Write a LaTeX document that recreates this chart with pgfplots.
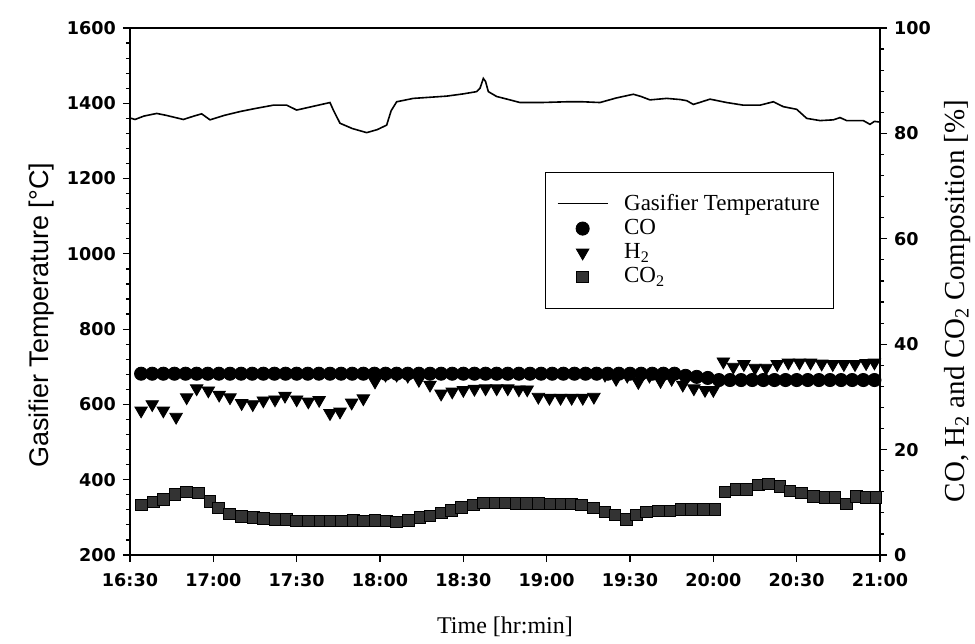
\documentclass[border=0pt]{standalone}
\usepackage{fontspec}
\setmainfont{Liberation Serif}
\newfontfamily\arialfont{Liberation Sans}
\newfontfamily\tickfont{DejaVu Sans}
\usepackage{pgfplots}
\pgfplotsset{compat=1.18}

\pgfplotsset{
  gasbase/.style={
    scale only axis, width=375pt, height=263.5pt,
    xmin=0, xmax=270,
    tick align=outside,
    major tick length=3.5pt, minor tick length=2pt,
    tick style={black, line width=0.6pt},
    axis line style={line width=0.7pt},
    /pgf/number format/assume math mode=true,
    /pgf/number format/1000 sep={},
    ticklabel style={font=\tickfont\bfseries\fontsize{8.8}{10.5}\selectfont},
  },
  legend image code/.code={
    \draw[mark repeat=2, mark phase=2, #1]
      plot coordinates {(0pt,0pt) (12.5pt,0pt) (25pt,0pt)};
  },
}

\begin{document}
\begin{tikzpicture}
\useasboundingbox (-65pt,-44pt) rectangle (422.5pt,277.5pt);

% left axis: gasifier temperature
\begin{axis}[gasbase, at={(0,0)}, anchor=south west,
  ymin=200, ymax=1600, ytick={200,400,...,1600}, minor y tick num=4,
  xtick={0,30,...,270},
  xticklabels={16:30,17:00,17:30,18:00,18:30,19:00,19:30,20:00,20:30,21:00},
  xticklabel style={yshift=-2pt},
  xtick pos=bottom, ytick pos=left,
  xlabel={Time [hr:min]},
  xlabel style={font=\fontsize{12}{14}\selectfont, at={(axis description cs:0.5,-0.137)}, anchor=center},
  ylabel={Gasifier Temperature [°C]},
  ylabel style={font=\arialfont\fontsize{13.5}{16}\selectfont, at={(axis description cs:-0.118,0.455)}, anchor=center, rotate=0},
]
\addplot[black, line width=0.8pt] coordinates {
(0,1361) (1.8,1357) (5,1366) (9.6,1373) (13,1368) (19.2,1357) (23,1366) (25.8,1372)
(28.8,1356) (34,1368) (39.6,1378) (45,1386) (51.6,1395) (56.4,1395) (60,1382) (66,1392)
(72,1402) (73.2,1382) (75.6,1347) (80,1333) (85.2,1322) (89,1330) (92.4,1342) (94,1380)
(96,1404) (102,1413) (108,1416) (114,1419) (120,1425) (124.8,1431) (126,1440) (127.2,1466)
(128,1458) (129,1431) (132,1418) (136.8,1409) (140.4,1402) (148,1402) (157.2,1404) (163,1404)
(169.2,1402) (175,1414) (181.2,1424) (184,1418) (187.2,1409) (193.2,1413) (198,1410) (200.4,1407)
(202.8,1397) (205,1402) (208.8,1411) (214.8,1402) (220.8,1395) (226.8,1395) (231.6,1404) (235.2,1391)
(240,1384) (243.6,1360) (248.4,1354) (253.2,1356) (255.6,1362) (258,1354) (264,1354) (266.4,1344)
(268,1352) (270,1350)
};
\end{axis}

% right axis: gas composition
\begin{axis}[gasbase, at={(0,0)}, anchor=south west,
  ymin=0, ymax=100, ytick={0,20,...,100}, minor y tick num=4,
  axis x line=none, axis y line*=right,
  ylabel={CO, H\textsubscript{2} and CO\textsubscript{2} Composition [\%]},
  ylabel style={font=\fontsize{14.5}{17}\selectfont, at={(axis description cs:1.103,0.482)}, anchor=center},
  legend style={at={(0.553,0.727)}, anchor=north west, draw=black,
    font=\fontsize{11.5}{13}\selectfont, inner xsep=6pt, inner ysep=10pt,
    nodes={inner sep=1pt}, row sep=1pt,
    /tikz/every odd column/.append style={column sep=7pt}},
  legend cell align=left,
]
\addlegendimage{black, line width=0.5pt}
\addlegendentry{Gasifier Temperature}

\addplot[only marks, mark=*, mark size=3.3pt, black] coordinates {
(4,34.4) (8,34.4) (12,34.4) (16,34.4) (20,34.4) (24,34.4) (28,34.4) (32,34.4) (36,34.4) (40,34.4)
(44,34.4) (48,34.4) (52,34.4) (56,34.4) (60,34.4) (64,34.4) (68,34.4) (72,34.4) (76,34.4) (80,34.4)
(84,34.4) (88,34.4) (92,34.4) (96,34.4) (100,34.4) (104,34.4) (108,34.4) (112,34.4) (116,34.4) (120,34.4)
(124,34.4) (128,34.4) (132,34.4) (136,34.4) (140,34.4) (144,34.4) (148,34.4) (152,34.4) (156,34.4) (160,34.4)
(164,34.4) (168,34.4) (172,34.4) (176,34.4) (180,34.4) (184,34.4) (188,34.4) (192,34.4) (196,34.4) (200,34.0)
(204,33.8) (208,33.6) (212,33.2) (216,33.2) (220,33.2) (224,33.2) (228,33.2) (232,33.2) (236,33.2) (240,33.2)
(244,33.2) (248,33.2) (252,33.2) (256,33.2) (260,33.2) (264,33.2) (268,33.2)
};
\addlegendentry{CO}

\addplot[only marks, mark=triangle*, mark size=3.6pt, black,
  mark options={rotate=180}] coordinates {
(4,27.4) (8,28.6) (12,27.4) (16.6,26.2) (20.4,29.9) (24,31.6) (28.2,31.2) (32.1,30.4) (36,29.9) (40.2,28.8)
(44.2,28.6) (48,29.3) (52.2,29.5) (55.8,30.2) (60,29.5) (64.2,29.1) (68.1,29.4) (72,26.9) (75.6,27.2) (79.8,28.9)
(84,29.7) (88.2,32.9) (92,34.2) (96,34.2) (100,34.0) (104,33.2) (108,32.3) (112,30.6) (116,31.0) (120,31.3)
(124,31.5) (128,31.6) (132,31.6) (136,31.6) (140,31.4) (143,31.4) (147,30.0) (151,29.8) (155,29.8) (159,29.8)
(163,29.8) (167,30.0) (171,34.2) (175,33.4) (179,34.0) (183,32.8) (187,34.0) (191,33.0) (195,33.4) (199,32.3)
(203,31.6) (207,31.3) (210,31.3) (213.6,36.7) (217.2,35.7) (221,36.2) (225,35.5) (229,35.5) (233,36.2) (237,36.5)
(241,36.5) (245,36.5) (249,36.3) (253,36.2) (257,36.2) (261,36.2) (265,36.4) (268,36.5)
};
\addlegendentry{H\textsubscript{2}}

\addplot[only marks, mark=square*, mark size=2.9pt, draw=black, fill=black!80] coordinates {
(4.2,9.5) (8.4,10.1) (12.0,10.6) (16.2,11.5) (20.4,12.0) (24.6,11.8) (28.8,10.2) (31.8,8.9) (35.7,7.8) (40.2,7.3)
(44.4,7.1) (48.0,7.0) (52.2,6.8) (56.4,6.8) (60.0,6.5) (64.2,6.5) (68.4,6.5) (72.0,6.5) (76.2,6.5) (80.4,6.6)
(84.0,6.5) (88.2,6.6) (92.4,6.5) (96.0,6.3) (100.2,6.6) (104.4,7.1) (108.0,7.4) (112.2,8.0) (115.8,8.5) (119.4,9.0)
(123.6,9.5) (127.2,9.9) (131.4,9.9) (135.0,9.9) (139.2,9.8) (142.8,9.8) (147.0,9.8) (151.2,9.7) (155.4,9.7) (159.0,9.7)
(162.6,9.5) (166.8,8.9) (171.0,8.2) (174.6,7.6) (178.6,6.8) (182.4,7.6) (186.0,8.2) (190.2,8.4) (194.4,8.4) (198.6,8.7)
(202.2,8.7) (206.4,8.7) (210.6,8.7) (214.2,12.0) (218.4,12.5) (222.0,12.5) (226.2,13.3) (229.8,13.5) (234.0,13.0) (237.6,12.2)
(241.8,11.8) (246.0,11.1) (250.2,10.9) (253.8,10.9) (258.0,9.7) (261.6,11.1) (265.2,10.9) (268.5,10.9)
};
\addlegendentry{CO\textsubscript{2}}
\end{axis}
\end{tikzpicture}
\end{document}
